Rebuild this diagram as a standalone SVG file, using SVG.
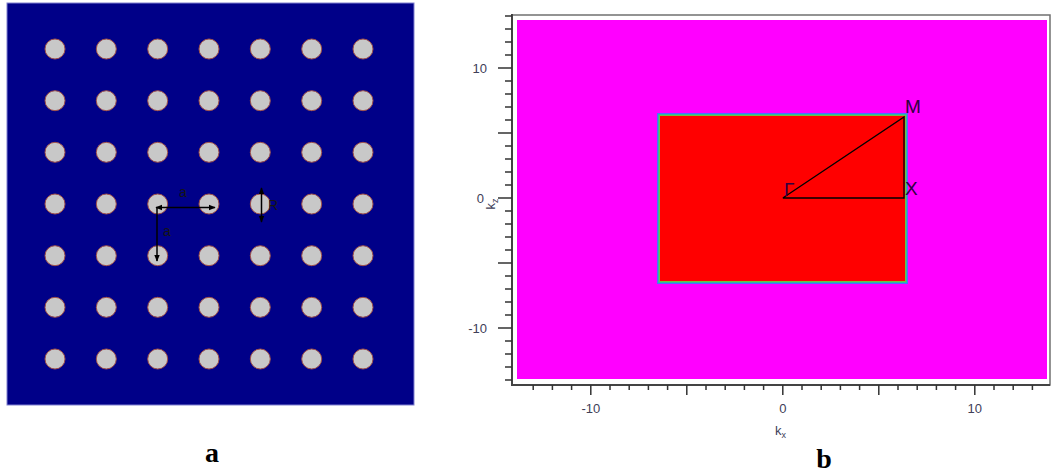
<svg xmlns="http://www.w3.org/2000/svg" width="1056" height="474" viewBox="0 0 1056 474">
<style>
.hole{fill:#c8c8c8;stroke:#a0504a;stroke-width:1}
.tick{stroke:#333;stroke-width:1.5}
.tl{font-family:"Liberation Sans",Arial,sans-serif;font-size:13px;fill:#404058}
.pt{font-family:"Liberation Sans",Arial,sans-serif;font-size:19px;fill:#300040}
.sm{font-family:"Liberation Sans",Arial,sans-serif;font-size:14px;fill:#151515}
.cap{font-family:"Liberation Serif","Times New Roman",serif;font-size:28px;font-weight:bold;fill:#000}
.arr{stroke:#000;stroke-width:1.5;fill:none}
.path{stroke:#000;stroke-width:1.3;fill:none}
</style>
<defs>
<marker id="ah" viewBox="0 0 10 10" refX="9" refY="5" markerWidth="7" markerHeight="7" orient="auto-start-reverse" markerUnits="userSpaceOnUse">
<path d="M0,1 L10,5 L0,9 z" fill="#000"/>
</marker>
</defs>
<rect width="1056" height="474" fill="#fff"/>

<!-- Panel a -->
<g id="panel-a">
<rect x="7" y="3" width="407" height="402" fill="#000088" stroke="#8080d0" stroke-width="1"/>
<g id="holes">
<circle class="hole" cx="55" cy="49" r="10"/><circle class="hole" cx="106.3" cy="49" r="10"/><circle class="hole" cx="157.7" cy="49" r="10"/><circle class="hole" cx="209" cy="49" r="10"/><circle class="hole" cx="260.3" cy="49" r="10"/><circle class="hole" cx="311.7" cy="49" r="10"/><circle class="hole" cx="363" cy="49" r="10"/>
<circle class="hole" cx="55" cy="100.7" r="10"/><circle class="hole" cx="106.3" cy="100.7" r="10"/><circle class="hole" cx="157.7" cy="100.7" r="10"/><circle class="hole" cx="209" cy="100.7" r="10"/><circle class="hole" cx="260.3" cy="100.7" r="10"/><circle class="hole" cx="311.7" cy="100.7" r="10"/><circle class="hole" cx="363" cy="100.7" r="10"/>
<circle class="hole" cx="55" cy="152.3" r="10"/><circle class="hole" cx="106.3" cy="152.3" r="10"/><circle class="hole" cx="157.7" cy="152.3" r="10"/><circle class="hole" cx="209" cy="152.3" r="10"/><circle class="hole" cx="260.3" cy="152.3" r="10"/><circle class="hole" cx="311.7" cy="152.3" r="10"/><circle class="hole" cx="363" cy="152.3" r="10"/>
<circle class="hole" cx="55" cy="204" r="10"/><circle class="hole" cx="106.3" cy="204" r="10"/><circle class="hole" cx="157.7" cy="204" r="10"/><circle class="hole" cx="209" cy="204" r="10"/><circle class="hole" cx="260.3" cy="204" r="10"/><circle class="hole" cx="311.7" cy="204" r="10"/><circle class="hole" cx="363" cy="204" r="10"/>
<circle class="hole" cx="55" cy="255.7" r="10"/><circle class="hole" cx="106.3" cy="255.7" r="10"/><circle class="hole" cx="157.7" cy="255.7" r="10"/><circle class="hole" cx="209" cy="255.7" r="10"/><circle class="hole" cx="260.3" cy="255.7" r="10"/><circle class="hole" cx="311.7" cy="255.7" r="10"/><circle class="hole" cx="363" cy="255.7" r="10"/>
<circle class="hole" cx="55" cy="307.3" r="10"/><circle class="hole" cx="106.3" cy="307.3" r="10"/><circle class="hole" cx="157.7" cy="307.3" r="10"/><circle class="hole" cx="209" cy="307.3" r="10"/><circle class="hole" cx="260.3" cy="307.3" r="10"/><circle class="hole" cx="311.7" cy="307.3" r="10"/><circle class="hole" cx="363" cy="307.3" r="10"/>
<circle class="hole" cx="55" cy="359" r="10"/><circle class="hole" cx="106.3" cy="359" r="10"/><circle class="hole" cx="157.7" cy="359" r="10"/><circle class="hole" cx="209" cy="359" r="10"/><circle class="hole" cx="260.3" cy="359" r="10"/><circle class="hole" cx="311.7" cy="359" r="10"/><circle class="hole" cx="363" cy="359" r="10"/>
</g>
<g id="dims">
<line class="arr" x1="156" y1="207.5" x2="215" y2="207.5" marker-start="url(#ah)" marker-end="url(#ah)"/>
<line class="arr" x1="157" y1="208" x2="157" y2="261" marker-end="url(#ah)"/>
<line class="arr" x1="261.5" y1="188" x2="261.5" y2="222" marker-start="url(#ah)" marker-end="url(#ah)"/>
<text class="sm" x="183" y="197" text-anchor="middle">a</text>
<text class="sm" x="167" y="236" text-anchor="middle">a</text>
<text class="sm" x="268" y="210">R</text>
</g>
</g>
<text class="cap" x="212" y="462" text-anchor="middle">a</text>

<!-- Panel b -->
<g id="panel-b">
<rect x="512" y="15" width="538" height="370" fill="#fff" stroke="#707070" stroke-width="1.5"/>
<line x1="512" y1="14" x2="512" y2="386" stroke="#444" stroke-width="2"/>
<line x1="511" y1="385" x2="1050" y2="385" stroke="#444" stroke-width="2"/>
<rect x="517" y="20" width="530" height="359" fill="#ff00ff"/>
<g id="brillouin-zone">
<rect x="657.5" y="113.5" width="250" height="170" fill="none" stroke="#4a70ff" stroke-width="1"/>
<rect x="658.5" y="114.5" width="248" height="168" fill="none" stroke="#30b8a0" stroke-width="1"/>
<rect x="659.5" y="115.5" width="246" height="166" fill="none" stroke="#70c040" stroke-width="1"/>
<rect x="660" y="116" width="245" height="165" fill="#ff0000"/>
</g>
<g id="connectors">
<polyline class="path" points="782.8,198 904,198 904,117 782.8,198"/>
</g>
<g id="labels">
<text class="pt" x="784" y="196">Γ</text>
<text class="pt" x="905" y="195">X</text>
<text class="pt" x="905" y="113">M</text>
</g>
<g id="y-axis">
<path class="tick" d="M505,16H512M505,29H512M505,42H512M505,55H512M498,68H512M505,81H512M505,94H512M505,107H512M505,120H512M498,133H512M505,146H512M505,159H512M505,172H512M505,185H512M498,198H512M505,211H512M505,224H512M505,237H512M505,250H512M498,263H512M505,276H512M505,289H512M505,302H512M505,315H512M498,328H512M505,341H512M505,354H512M505,367H512M505,380H512"/>
<text class="tl" x="487" y="73" text-anchor="end">10</text>
<text class="tl" x="484" y="203" text-anchor="end">0</text>
<text class="tl" x="487" y="333" text-anchor="end">-10</text>
<text class="tl" transform="translate(495,204) rotate(-90)" text-anchor="middle">k<tspan font-size="9" dy="3">z</tspan></text>
</g>
<g id="x-axis">
<path class="tick" d="M533.2,385V390M552.4,385V390M571.6,385V390M590.8,385V395M610,385V390M629.2,385V390M648.4,385V390M667.6,385V390M686.8,385V395M706,385V390M725.2,385V390M744.4,385V390M763.6,385V390M782.8,385V395M802,385V390M821.2,385V390M840.4,385V390M859.6,385V390M878.8,385V395M898,385V390M917.2,385V390M936.4,385V390M955.6,385V390M974.8,385V395M994,385V390M1013.2,385V390M1032.4,385V390"/>
<text class="tl" x="590.8" y="413" text-anchor="middle">-10</text>
<text class="tl" x="782.8" y="413" text-anchor="middle">0</text>
<text class="tl" x="974.8" y="413" text-anchor="middle">10</text>
<text class="tl" x="775" y="435">k<tspan font-size="9" dy="3">x</tspan></text>
</g>
</g>
<text class="cap" x="824" y="468" text-anchor="middle">b</text>
</svg>
